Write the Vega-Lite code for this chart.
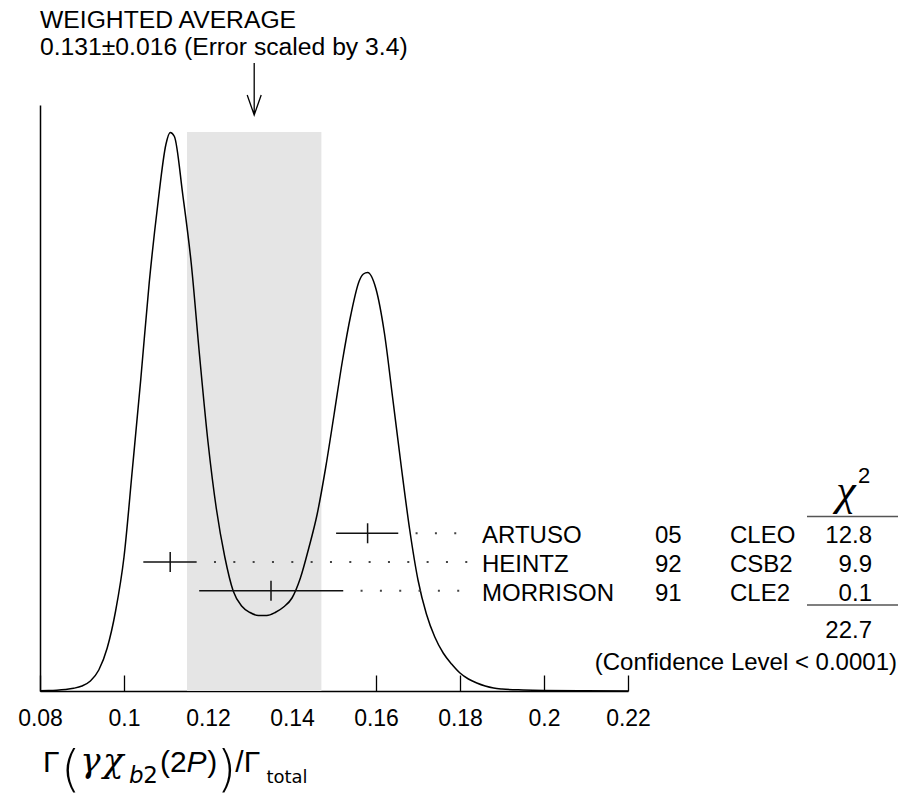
{
  "$schema": "https://vega.github.io/schema/vega-lite/v6.json",
  "width": 588,
  "height": 586,
  "autosize": {"type": "none"},
  "padding": {"left": 40, "top": 105, "right": 273, "bottom": 106},
  "background": "white",
  "config": {"view": {"stroke": null}, "text": {"font": "Liberation Sans", "color": "#000"}},
  "data": {"values": [{}]},
  "datasets": {
    "ideogram": [
      {"x": 0.080, "y": 0.002}, {"x": 0.082, "y": 0.004}, {"x": 0.084, "y": 0.008}, {"x": 0.086, "y": 0.015},
      {"x": 0.088, "y": 0.027}, {"x": 0.090, "y": 0.05}, {"x": 0.092, "y": 0.10}, {"x": 0.094, "y": 0.21},
      {"x": 0.096, "y": 0.43}, {"x": 0.098, "y": 0.80}, {"x": 0.100, "y": 1.34}, {"x": 0.102, "y": 2.22},
      {"x": 0.104, "y": 3.12}, {"x": 0.106, "y": 4.08}, {"x": 0.108, "y": 4.85}, {"x": 0.110, "y": 5.47},
      {"x": 0.111, "y": 5.585}, {"x": 0.112, "y": 5.545}, {"x": 0.114, "y": 4.96}, {"x": 0.116, "y": 4.28},
      {"x": 0.118, "y": 3.35}, {"x": 0.120, "y": 2.49}, {"x": 0.122, "y": 1.82}, {"x": 0.124, "y": 1.34},
      {"x": 0.126, "y": 1.00}, {"x": 0.128, "y": 0.85}, {"x": 0.130, "y": 0.785}, {"x": 0.132, "y": 0.755},
      {"x": 0.134, "y": 0.755}, {"x": 0.136, "y": 0.785}, {"x": 0.138, "y": 0.84}, {"x": 0.140, "y": 0.93},
      {"x": 0.142, "y": 1.13}, {"x": 0.144, "y": 1.43}, {"x": 0.146, "y": 1.77}, {"x": 0.148, "y": 2.23},
      {"x": 0.150, "y": 2.76}, {"x": 0.152, "y": 3.30}, {"x": 0.154, "y": 3.76}, {"x": 0.156, "y": 4.10},
      {"x": 0.157, "y": 4.17}, {"x": 0.158, "y": 4.185}, {"x": 0.160, "y": 4.02}, {"x": 0.162, "y": 3.58},
      {"x": 0.164, "y": 2.92}, {"x": 0.166, "y": 2.25}, {"x": 0.168, "y": 1.62}, {"x": 0.170, "y": 1.11},
      {"x": 0.172, "y": 0.77}, {"x": 0.174, "y": 0.54}, {"x": 0.176, "y": 0.38}, {"x": 0.178, "y": 0.27},
      {"x": 0.180, "y": 0.18}, {"x": 0.182, "y": 0.12}, {"x": 0.184, "y": 0.08}, {"x": 0.186, "y": 0.05},
      {"x": 0.188, "y": 0.03}, {"x": 0.190, "y": 0.02}, {"x": 0.195, "y": 0.01}, {"x": 0.200, "y": 0.005},
      {"x": 0.210, "y": 0.002}, {"x": 0.220, "y": 0.001}
    ],
    "average": [
      {"value": 0.131, "error": 0.016, "lo": 0.115, "hi": 0.147, "errorScale": 3.4, "peak": 5.59}
    ],
    "measurements": [
      {"author": "ARTUSO", "year": "05", "experiment": "CLEO", "value": 0.158, "lo": 0.1505, "hi": 0.1653, "chi2": 12.8, "rank": 1},
      {"author": "HEINTZ", "year": "92", "experiment": "CSB2", "value": 0.111, "lo": 0.1046, "hi": 0.1173, "chi2": 9.9, "rank": 2},
      {"author": "MORRISON", "year": "91", "experiment": "CLE2", "value": 0.135, "lo": 0.1179, "hi": 0.1522, "chi2": 0.1, "rank": 3}
    ],
    "summary": [
      {"chi2total": 22.7, "confidence": "< 0.0001"}
    ]
  },
  "layer": [
    {
      "layer": [
        {
          "data": {"name": "average"},
          "mark": {"type": "bar", "color": "#e5e5e5", "orient": "vertical"},
          "encoding": {
            "x": {
              "field": "lo", "type": "quantitative",
              "scale": {"domain": [0.08, 0.22], "nice": false, "zero": false, "padding": 0},
              "axis": {
                "values": [0.08, 0.1, 0.12, 0.14, 0.16, 0.18, 0.2, 0.22],
                "format": "~g", "title": null, "grid": false,
                "domainColor": "#000", "domainWidth": 1.5,
                "tickColor": "#000", "tickWidth": 1.3, "tickSize": -16,
                "labelFont": "Liberation Sans", "labelFontSize": 23, "labelColor": "#000",
                "labelPadding": 32, "labelFlush": false, "labelOverlap": false, "labelBound": false
              }
            },
            "x2": {"field": "hi"},
            "y": {
              "field": "peak", "type": "quantitative",
              "scale": {"domain": [0, 5.86], "nice": false, "zero": false, "padding": 0},
              "axis": {"title": null, "ticks": false, "labels": false, "grid": false, "domainColor": "#000", "domainWidth": 1.5}
            }
          }
        },
        {
          "data": {"name": "ideogram"},
          "mark": {"type": "line", "color": "#000", "strokeWidth": 1.5, "interpolate": "monotone"},
          "encoding": {
            "x": {"field": "x", "type": "quantitative"},
            "y": {"field": "y", "type": "quantitative"}
          }
        },
        {
          "data": {"name": "average"},
          "mark": {"type": "point", "shape": "M0,-2.6L0,0M-0.35,-1L0,0L0.35,-1", "size": 1600, "filled": false, "color": "#000", "strokeWidth": 1.3, "opacity": 1},
          "encoding": {
            "x": {"field": "value", "type": "quantitative"},
            "y": {"datum": 5.76, "type": "quantitative"}
          }
        },
        {
          "data": {"name": "average"},
          "mark": {"type": "text", "align": "left", "baseline": "alphabetic", "fontSize": 24.7, "lineHeight": 26.5,
                   "text": ["WEIGHTED AVERAGE", "0.131±0.016 (Error scaled by 3.4)"]},
          "encoding": {
            "x": {"datum": 0.08, "type": "quantitative"},
            "y": {"datum": 6.63, "type": "quantitative"}
          }
        },
        {
          "mark": {"type": "text", "align": "left", "baseline": "alphabetic", "fontSize": 30, "text": "Γ"},
          "encoding": {"x": {"datum": 0.0807, "type": "quantitative"}, "y": {"datum": -0.81, "type": "quantitative"}}
        },
        {
          "mark": {"type": "text", "align": "left", "baseline": "alphabetic", "fontSize": 50, "font": "DejaVu Sans", "fontWeight": 200, "text": "("},
          "encoding": {"x": {"datum": 0.0850, "type": "quantitative"}, "y": {"datum": -0.95, "type": "quantitative"}}
        },
        {
          "mark": {"type": "text", "align": "left", "baseline": "alphabetic", "fontSize": 34, "font": "DejaVu Serif", "fontStyle": "italic", "text": "γ"},
          "encoding": {"x": {"datum": 0.0896, "type": "quantitative"}, "y": {"datum": -0.81, "type": "quantitative"}}
        },
        {
          "mark": {"type": "text", "align": "left", "baseline": "alphabetic", "fontSize": 34, "font": "DejaVu Serif", "fontStyle": "italic", "text": "χ"},
          "encoding": {"x": {"datum": 0.0950, "type": "quantitative"}, "y": {"datum": -0.81, "type": "quantitative"}}
        },
        {
          "mark": {"type": "text", "align": "left", "baseline": "alphabetic", "fontSize": 23, "font": "DejaVu Sans", "fontStyle": "italic", "text": "b"},
          "encoding": {"x": {"datum": 0.1012, "type": "quantitative"}, "y": {"datum": -0.92, "type": "quantitative"}}
        },
        {
          "mark": {"type": "text", "align": "left", "baseline": "alphabetic", "fontSize": 23, "font": "DejaVu Sans", "text": "2"},
          "encoding": {"x": {"datum": 0.1046, "type": "quantitative"}, "y": {"datum": -0.92, "type": "quantitative"}}
        },
        {
          "mark": {"type": "text", "align": "left", "baseline": "alphabetic", "fontSize": 30, "text": "(2"},
          "encoding": {"x": {"datum": 0.1086, "type": "quantitative"}, "y": {"datum": -0.81, "type": "quantitative"}}
        },
        {
          "mark": {"type": "text", "align": "left", "baseline": "alphabetic", "fontSize": 30, "fontStyle": "italic", "text": "P"},
          "encoding": {"x": {"datum": 0.1149, "type": "quantitative"}, "y": {"datum": -0.81, "type": "quantitative"}}
        },
        {
          "mark": {"type": "text", "align": "left", "baseline": "alphabetic", "fontSize": 30, "text": ")"},
          "encoding": {"x": {"datum": 0.1198, "type": "quantitative"}, "y": {"datum": -0.81, "type": "quantitative"}}
        },
        {
          "mark": {"type": "text", "align": "left", "baseline": "alphabetic", "fontSize": 50, "font": "DejaVu Sans", "fontWeight": 200, "text": ")"},
          "encoding": {"x": {"datum": 0.1221, "type": "quantitative"}, "y": {"datum": -0.95, "type": "quantitative"}}
        },
        {
          "mark": {"type": "text", "align": "left", "baseline": "alphabetic", "fontSize": 30, "text": "/Γ"},
          "encoding": {"x": {"datum": 0.1265, "type": "quantitative"}, "y": {"datum": -0.81, "type": "quantitative"}}
        },
        {
          "mark": {"type": "text", "align": "left", "baseline": "alphabetic", "fontSize": 18, "font": "DejaVu Sans", "text": "total"},
          "encoding": {"x": {"datum": 0.1339, "type": "quantitative"}, "y": {"datum": -0.92, "type": "quantitative"}}
        }
      ]
    },
    {
      "layer": [
        {
          "data": {"name": "measurements"},
          "mark": {"type": "rule", "color": "#111", "strokeWidth": 1.5},
          "encoding": {
            "x": {"field": "lo", "type": "quantitative"},
            "x2": {"field": "hi"},
            "y": {"field": "rank", "type": "quantitative",
                  "scale": {"domain": [-13.92, 6.495], "reverse": true, "nice": false, "zero": false},
                  "axis": null}
          }
        },
        {
          "data": {"name": "measurements"},
          "mark": {"type": "rule", "color": "#444", "strokeWidth": 2, "strokeDash": [2, 17.33], "strokeDashOffset": 2},
          "encoding": {
            "x": {"field": "hi", "type": "quantitative"},
            "x2": {"datum": 0.18174},
            "y": {"field": "rank", "type": "quantitative", "axis": null}
          }
        },
        {
          "data": {"name": "measurements"},
          "mark": {"type": "tick", "orient": "vertical", "color": "#111", "size": 20, "thickness": 1.5, "opacity": 1},
          "encoding": {
            "x": {"field": "value", "type": "quantitative"},
            "y": {"field": "rank", "type": "quantitative", "axis": null}
          }
        },
        {
          "data": {"name": "measurements"},
          "mark": {"type": "text", "align": "left", "baseline": "alphabetic", "dy": 10, "fontSize": 24},
          "encoding": {
            "x": {"datum": 0.185238, "type": "quantitative"},
            "y": {"field": "rank", "type": "quantitative", "axis": null},
            "text": {"field": "author", "type": "nominal"}
          }
        },
        {
          "data": {"name": "measurements"},
          "mark": {"type": "text", "align": "left", "baseline": "alphabetic", "dy": 10, "fontSize": 24},
          "encoding": {
            "x": {"datum": 0.226429, "type": "quantitative"},
            "y": {"field": "rank", "type": "quantitative", "axis": null},
            "text": {"field": "year", "type": "nominal"}
          }
        },
        {
          "data": {"name": "measurements"},
          "mark": {"type": "text", "align": "left", "baseline": "alphabetic", "dy": 10, "fontSize": 24},
          "encoding": {
            "x": {"datum": 0.244286, "type": "quantitative"},
            "y": {"field": "rank", "type": "quantitative", "axis": null},
            "text": {"field": "experiment", "type": "nominal"}
          }
        },
        {
          "data": {"name": "measurements"},
          "mark": {"type": "text", "align": "right", "baseline": "alphabetic", "dy": 10, "fontSize": 24},
          "encoding": {
            "x": {"datum": 0.278095, "type": "quantitative"},
            "y": {"field": "rank", "type": "quantitative", "axis": null},
            "text": {"field": "chi2", "type": "quantitative", "format": ".1f"}
          }
        },
        {
          "mark": {"type": "text", "align": "center", "baseline": "alphabetic", "fontSize": 44, "font": "Liberation Serif", "fontStyle": "italic", "text": "χ"},
          "encoding": {
            "x": {"datum": 0.271905, "type": "quantitative"},
            "y": {"datum": 0, "type": "quantitative", "axis": null}
          }
        },
        {
          "mark": {"type": "text", "align": "left", "baseline": "alphabetic", "fontSize": 22, "text": "2"},
          "encoding": {
            "x": {"datum": 0.274762, "type": "quantitative"},
            "y": {"datum": -0.753, "type": "quantitative", "axis": null}
          }
        },
        {
          "mark": {"type": "tick", "orient": "horizontal", "color": "#555", "size": 91, "thickness": 1.5, "opacity": 1},
          "encoding": {
            "x": {"datum": 0.273452, "type": "quantitative"},
            "y": {"datum": 0.42, "type": "quantitative", "axis": null}
          }
        },
        {
          "mark": {"type": "tick", "orient": "horizontal", "color": "#555", "size": 91, "thickness": 1.5, "opacity": 1},
          "encoding": {
            "x": {"datum": 0.273452, "type": "quantitative"},
            "y": {"datum": 3.5, "type": "quantitative", "axis": null}
          }
        },
        {
          "data": {"name": "summary"},
          "mark": {"type": "text", "align": "right", "baseline": "alphabetic", "dy": 10, "fontSize": 24},
          "encoding": {
            "x": {"datum": 0.278095, "type": "quantitative"},
            "y": {"datum": 4.3, "type": "quantitative", "axis": null},
            "text": {"field": "chi2total", "type": "quantitative", "format": ".1f"}
          }
        },
        {
          "data": {"name": "summary"},
          "mark": {"type": "text", "align": "right", "baseline": "alphabetic", "dy": 10, "fontSize": 24, "text": "(Confidence Level < 0.0001)"},
          "encoding": {
            "x": {"datum": 0.284048, "type": "quantitative"},
            "y": {"datum": 5.41, "type": "quantitative", "axis": null}
          }
        }
      ]
    }
  ],
  "resolve": {"scale": {"y": "independent"}}
}
